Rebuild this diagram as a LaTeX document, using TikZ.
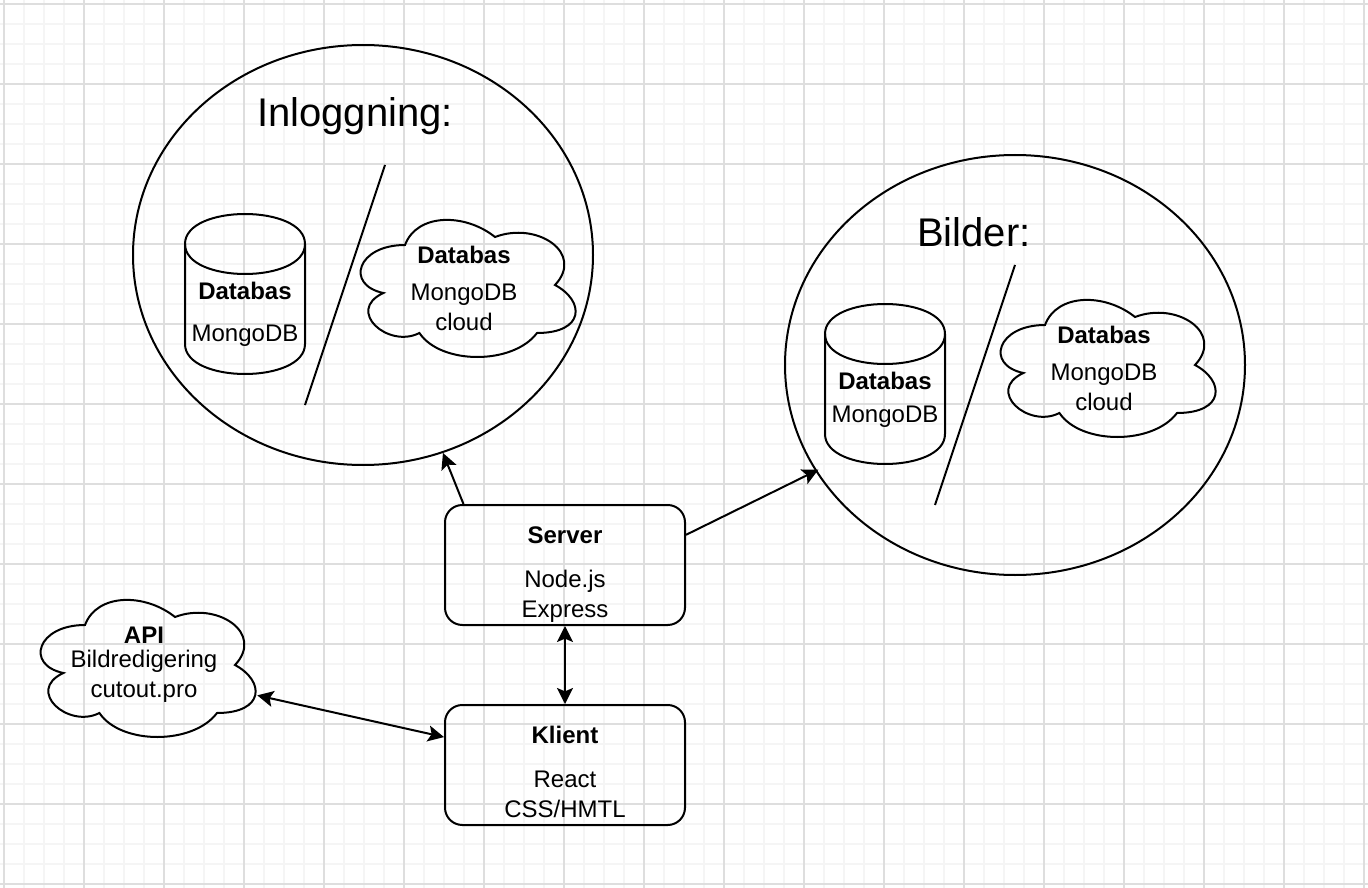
\documentclass[tikz,border=0pt]{standalone}
\usepackage{fontspec}
\setmainfont{Liberation Sans}
\usetikzlibrary{arrows.meta,shapes.geometric}
\tikzset{
	minorline/.style={color=black!4,line width=1.2pt},
	majorline/.style={color=black!13,line width=.8pt},
	shapeline/.style={draw,line width=1.5pt},
	link/.style={line width=1.5pt},
	boxnode/.style={shapeline,rounded corners=13pt,minimum width=180pt,minimum height=90pt,inner sep=0pt,align=center},
	titlenode/.style={font=\fontsize{30}{36}\selectfont},
	textnode/.style={inner sep=0pt,align=center}
}
% cloud: name, left, top, text offset, text
\newcommand{\dbcloud}[5]{
	\begin{scope}[shift={(#2,#3)}]
		\draw[shapeline] (60,40) .. controls (12,40) and (0,80) .. (38.4,88)
			.. controls (0,105.6) and (43.2,144) .. (74.4,128)
			.. controls (96,160) and (168,160) .. (192,128)
			.. controls (240,128) and (240,96) .. (210,80)
			.. controls (240,48) and (192,16) .. (150,32)
			.. controls (120,8) and (72,8) .. (60,40) -- cycle;
		\node[textnode,minimum width=169.5pt,minimum height=105pt] (#1) at (119,80+#4) {#5};
	\end{scope}
}
% cylinder: name, left, top, text offset, text
\newcommand{\dbcylinder}[5]{
	\begin{scope}[shift={(#2,#3)}]
		\draw[shapeline] (0,30) .. controls (0,-10) and (120,-10) .. (120,30) -- (120,130)
			.. controls (120,170) and (0,170) .. (0,130) -- cycle;
		\draw[shapeline] (0,30) .. controls (0,70) and (120,70) .. (120,30);
		\node[textnode] (#1) at (60,90+#4) {#5};
	\end{scope}
}
\newcommand{\lastline}{\rule[-5pt]{0pt}{5pt}}
\begin{document}
\begin{tikzpicture}[x=.75pt,y=-.75pt,>={Stealth[length=12pt,width=12pt,inset=2.5pt]},font=\fontsize{18}{22.5}\selectfont]
	\useasboundingbox (0,0) rectangle (1368,888);
	% grid
	\foreach \i in {0,...,68} {
		\draw[minorline] ({4+20*\i},0) -- ({4+20*\i},888);
	}
	\foreach \i in {0,...,44} {
		\draw[minorline] (0,{4+20*\i}) -- (1368,{4+20*\i});
	}
	\foreach \i in {0,...,17} {
		\draw[majorline] ({4+80*\i},0) -- ({4+80*\i},888);
	}
	\foreach \i in {0,...,11} {
		\draw[majorline] (0,{4+80*\i}) -- (1368,{4+80*\i});
	}
	% groups
	\node[shapeline,ellipse,minimum width=345pt,minimum height=315pt,inner sep=0pt] (login) at (363,255) {};
	\node[shapeline,ellipse,minimum width=345pt,minimum height=315pt,inner sep=0pt] (images) at (1015,365) {};
	\node[titlenode] (logintitle) at (355,116.5) {Inloggning:};
	\node[titlenode] (imagestitle) at (974,232) {Bilder:};
	\coordinate (logintop) at (385,165);
	\coordinate (loginbottom) at (305,405);
	\coordinate (imagestop) at (1015,265);
	\coordinate (imagesbottom) at (935,505);
	\draw[link] (logintop) -- (loginbottom);
	\draw[link] (imagestop) -- (imagesbottom);
	% databases
	\dbcylinder{logindb}{185}{214}{10}{\textbf{Databas}\\[9pt]MongoDB}
	\dbcylinder{imagesdb}{825}{304}{6}{\textbf{Databas}\\[2.25pt]MongoDB}
	\dbcloud{logincloud}{345}{205}{3}{\textbf{Databas}\\[5.25pt]MongoDB\\cloud}
	\dbcloud{imagescloud}{985}{285}{3}{\textbf{Databas}\\[5.25pt]MongoDB\\cloud}
	\dbcloud{api}{25}{585}{0}{\textbf{API}\\[-4.5pt]Bildredigering\\cutout.pro}
	% server and client
	\node[boxnode] (server) at (565,565) {\rule{0pt}{28pt}\textbf{Server}\\[10.5pt]Node.js\\Express\lastline};
	\node[boxnode] (client) at (565,765) {\rule{0pt}{28pt}\textbf{Klient}\\[10.5pt]React\\CSS/HMTL\lastline};
	% connectors
	\draw[link,->] (server.149.04) -- (login.-68.15);
	\draw[link,->,shorten >=-2.5pt] (server.14.5) -- (images.208.5);
	\draw[link,<->] (server) -- (client);
	\draw[link,<->] (api.-15.8) -- (client.167.8);
\end{tikzpicture}
\end{document}
